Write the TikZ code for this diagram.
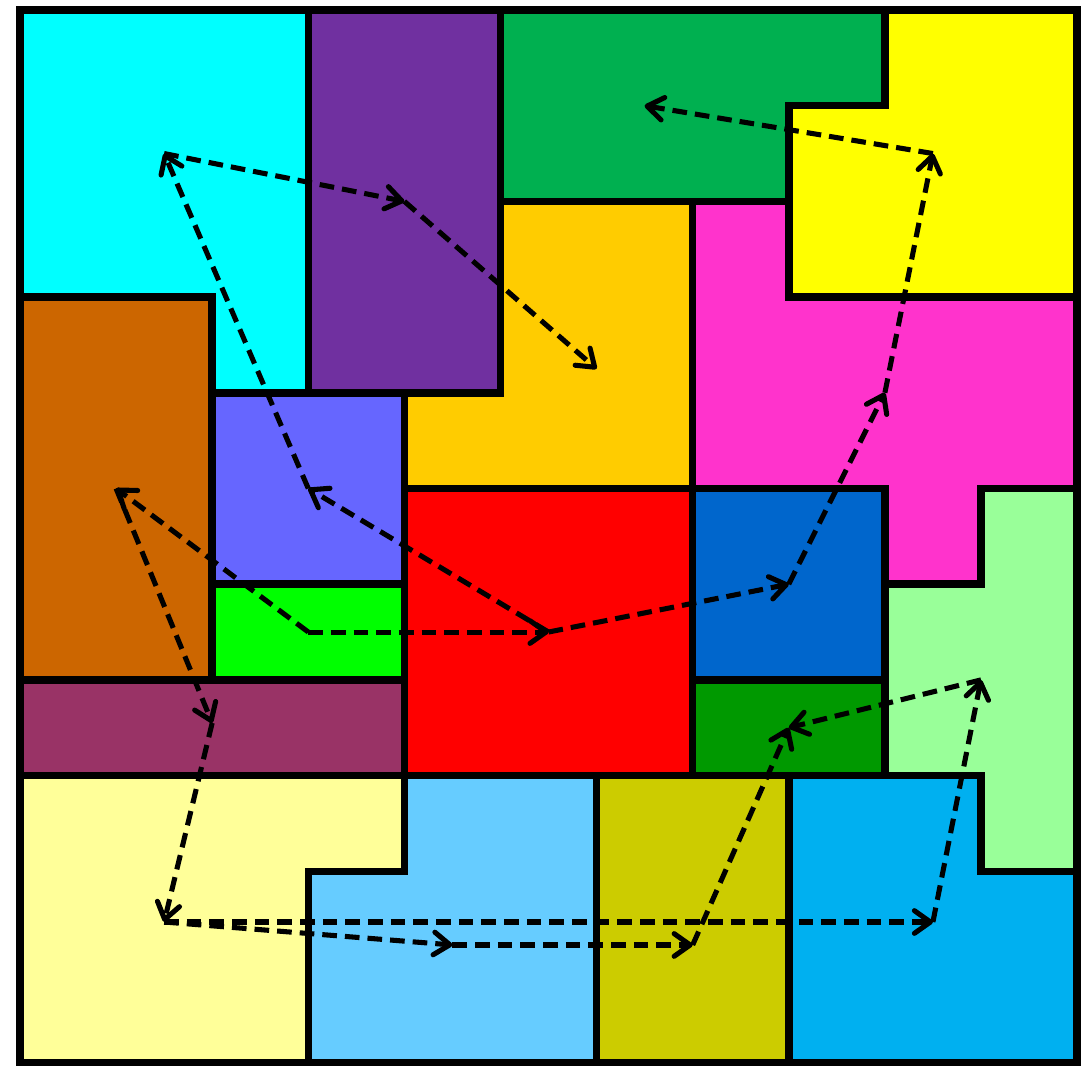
\documentclass[tikz,border=0pt]{standalone}
\usetikzlibrary{arrows.meta}
\definecolor{cCyan}{HTML}{00FFFF}
\definecolor{cPurple}{HTML}{7030A0}
\definecolor{cGreen}{HTML}{00B050}
\definecolor{cYellow}{HTML}{FFFF00}
\definecolor{cGold}{HTML}{FFCC00}
\definecolor{cMagenta}{HTML}{FF33CC}
\definecolor{cBrown}{HTML}{CC6600}
\definecolor{cPeri}{HTML}{6666FF}
\definecolor{cLime}{HTML}{00FF00}
\definecolor{cRed}{HTML}{FF0000}
\definecolor{cBlue}{HTML}{0066CC}
\definecolor{cLtGreen}{HTML}{99FF99}
\definecolor{cMaroon}{HTML}{993366}
\definecolor{cDkGreen}{HTML}{009900}
\definecolor{cLtYellow}{HTML}{FFFF99}
\definecolor{cLtBlue}{HTML}{66CCFF}
\definecolor{cOlive}{HTML}{CCCC00}
\definecolor{cSky}{HTML}{00B0F0}
\begin{document}
\begin{tikzpicture}[x=72.08pt,y=-71.78pt,
  piece/.style={draw=black,line width=5.6pt,line join=miter},
  link/.style={draw=black,line width=3.8pt,dash pattern=on 11pt off 6pt,
    -{Straight Barb[length=12pt,width=17pt,round]}}]
\useasboundingbox (-0.208,-0.1045) rectangle (11.145,11.034);
% pieces
\path[piece,fill=cCyan] (0,0)--(3,0)--(3,4)--(2,4)--(2,3)--(0,3)--cycle;
\path[piece,fill=cPurple] (3,0) rectangle (5,4);
\path[piece,fill=cGreen] (5,0)--(9,0)--(9,1)--(8,1)--(8,2)--(5,2)--cycle;
\path[piece,fill=cYellow] (9,0)--(11,0)--(11,3)--(8,3)--(8,1)--(9,1)--cycle;
\path[piece,fill=cGold] (5,2)--(7,2)--(7,5)--(4,5)--(4,4)--(5,4)--cycle;
\path[piece,fill=cMagenta] (7,2)--(8,2)--(8,3)--(11,3)--(11,5)--(10,5)--(10,6)--(9,6)--(9,5)--(7,5)--cycle;
\path[piece,fill=cBrown] (0,3) rectangle (2,7);
\path[piece,fill=cPeri] (2,4) rectangle (4,6);
\path[piece,fill=cLime] (2,6) rectangle (4,7);
\path[piece,fill=cRed] (4,5) rectangle (7,8);
\path[piece,fill=cBlue] (7,5) rectangle (9,7);
\path[piece,fill=cLtGreen] (10,5)--(11,5)--(11,9)--(10,9)--(10,8)--(9,8)--(9,6)--(10,6)--cycle;
\path[piece,fill=cMaroon] (0,7) rectangle (4,8);
\path[piece,fill=cDkGreen] (7,7) rectangle (9,8);
\path[piece,fill=cLtYellow] (0,8)--(4,8)--(4,9)--(3,9)--(3,11)--(0,11)--cycle;
\path[piece,fill=cLtBlue] (4,8)--(6,8)--(6,11)--(3,11)--(3,9)--(4,9)--cycle;
\path[piece,fill=cOlive] (6,8) rectangle (8,11);
\path[piece,fill=cSky] (8,8)--(10,8)--(10,9)--(11,9)--(11,11)--(8,11)--cycle;
% points
\coordinate (A) at (1.5,1.5);
\coordinate (B) at (4,2);
\coordinate (C) at (6,3.75);
\coordinate (D) at (6.5,1);
\coordinate (E) at (9.5,1.5);
\coordinate (F) at (9,4);
\coordinate (G) at (8,6);
\coordinate (H) at (5.5,6.5);
\coordinate (I) at (3,5);
\coordinate (J) at (1,5);
\coordinate (K) at (3,6.5);
\coordinate (L) at (2,7.45);
\coordinate (M) at (1.5,9.53);
\coordinate (N) at (4.5,9.77);
\coordinate (O) at (7,9.77);
\coordinate (P) at (8,7.5);
\coordinate (Q) at (10,7);
\coordinate (R) at (9.5,9.53);
% arrows
\draw[link] (K) -- (H);
\draw[link] (K) -- (J);
\draw[link] (H) -- (I);
\draw[link] (H) -- (G);
\draw[link] (I) -- (A);
\draw[link] (A) -- (B);
\draw[link] (B) -- (C);
\draw[link] (G) -- (F);
\draw[link] (F) -- (E);
\draw[link] (E) -- (D);
\draw[link] (J) -- (L);
\draw[link] (L) -- (M);
\draw[link] (M) -- (N);
\draw[link] (M) -- (R);
\draw[link] (N) -- (O);
\draw[link] (O) -- (P);
\draw[link] (R) -- (Q);
\draw[link] (Q) -- (P);
\end{tikzpicture}
\end{document}
